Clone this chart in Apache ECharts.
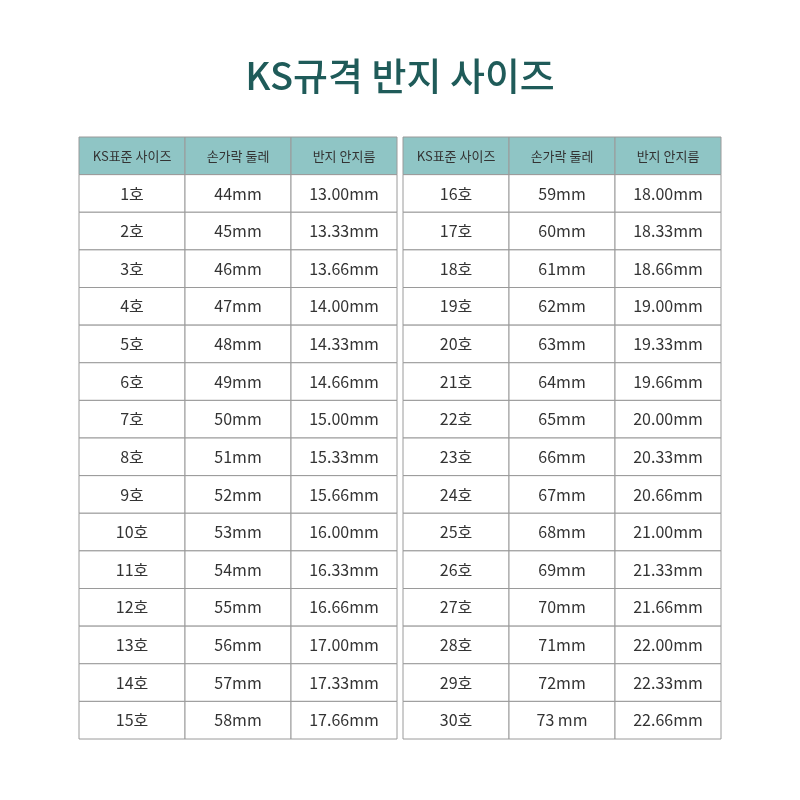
<!DOCTYPE html>
<html><head><meta charset="utf-8">
<script src="https://cdn.jsdelivr.net/npm/echarts@6/dist/echarts.min.js"></script>
<style>html,body{margin:0;background:#fff}#c{width:800px;height:800px}</style>
</head><body><div id="c"></div>
<script>
const headers = ['KS표준 사이즈', '손가락 둘레', '반지 안지름'];
const sizes = ['1호','2호','3호','4호','5호','6호','7호','8호','9호','10호','11호','12호','13호','14호','15호','16호','17호','18호','19호','20호','21호','22호','23호','24호','25호','26호','27호','28호','29호','30호'];
const circumference = ['44mm','45mm','46mm','47mm','48mm','49mm','50mm','51mm','52mm','53mm','54mm','55mm','56mm','57mm','58mm','59mm','60mm','61mm','62mm','63mm','64mm','65mm','66mm','67mm','68mm','69mm','70mm','71mm','72mm','73 mm'];
const innerDiameter = ['13.00mm','13.33mm','13.66mm','14.00mm','14.33mm','14.66mm','15.00mm','15.33mm','15.66mm','16.00mm','16.33mm','16.66mm','17.00mm','17.33mm','17.66mm','18.00mm','18.33mm','18.66mm','19.00mm','19.33mm','19.66mm','20.00mm','20.33mm','20.66mm','21.00mm','21.33mm','21.66mm','22.00mm','22.33mm','22.66mm'];
const rowsPerTable = 15;

function tableData(offset){
  const d = [];
  headers.forEach((h,c)=>d.push([c,0,h,1]));
  for(let r=0;r<rowsPerTable;r++){
    const i = offset + r;
    [sizes[i], circumference[i], innerDiameter[i]].forEach((t,c)=>d.push([c,r+1,t,0]));
  }
  return d;
}
const cols = [0,1,2], rows = Array.from({length:16},(_,i)=>i);
function renderItem(params, api){
  const x = api.value(0), y = api.value(1);
  const p = api.coord([x,y]); const s = api.size([1,1]);
  const hdr = api.value(3) === 1;
  return {type:'group', children:[
    {type:'rect', shape:{x:p[0]-s[0]/2, y:p[1]-s[1]/2, width:s[0], height:s[1]},
     style:{fill: hdr ? '#8fc5c5' : '#fff', stroke:'#9a9a9a', lineWidth:1}},
    {type:'text', style:{x:p[0], y:p[1], text: api.value(2), align:'center', verticalAlign:'middle',
      fontSize: hdr ? 13 : 16, fill:'#333', fontFamily:'Noto Sans CJK KR'}}
  ]};
}
const grids = [{left:79, width:318, top:137, bottom:61},{left:403, width:318, top:137, bottom:61}];
const chart = echarts.init(document.getElementById('c'));
chart.setOption({
  animation:false,
  title:{text:'KS규격 반지 사이즈', left:'center', top:52, textStyle:{fontSize:38, fontWeight:500, color:'#1f5b59', fontFamily:'Noto Sans CJK KR'}},
  grid: grids,
  xAxis: grids.map((g,i)=>({type:'category', data:cols, gridIndex:i, show:false})),
  yAxis: grids.map((g,i)=>({type:'category', data:rows, gridIndex:i, inverse:true, show:false})),
  series:[0,1].map(i=>({type:'custom', xAxisIndex:i, yAxisIndex:i, renderItem, data:tableData(i*rowsPerTable),
    encode:{x:0,y:1}}))
});
</script></body></html>
